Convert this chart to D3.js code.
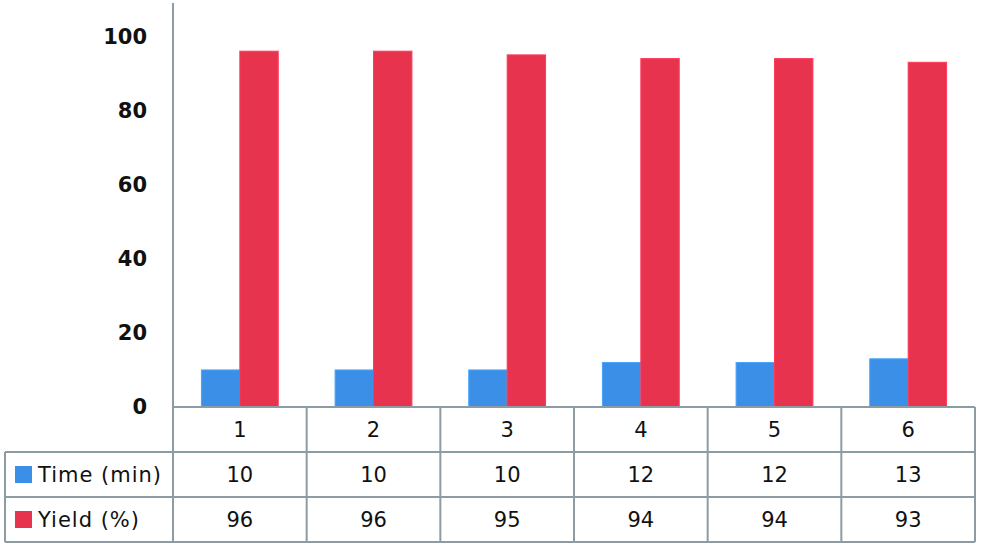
<!DOCTYPE html>
<html>
<head>
<meta charset="utf-8">
<script src="https://cdn.jsdelivr.net/npm/d3@7"></script>
<style>
  body { margin: 0; background: #fff; }
  text { font-family: "DejaVu Sans", Verdana, sans-serif; fill: #111; }
</style>
</head>
<body>
<svg id="chart" width="981" height="549"></svg>
<script>
const categories = ["1", "2", "3", "4", "5", "6"];
const timeValues = [10, 10, 10, 12, 12, 13];
const yieldValues = [96, 96, 95, 94, 94, 93];
const seriesNames = ["Time (min)", "Yield (%)"];
const colors = ["#3c8fe6", "#e8334f"];
const yTicks = [0, 20, 40, 60, 80, 100];

const plotLeft = 173;
const plotRight = 975;
const plotTop = 3;
const plotBottom = 407;
const rowHeight = 45;
const tableLeft = 5;
const gridColor = "#8d9ca2";

const svg = d3.select("#chart");

const x = d3.scaleBand().domain(categories).range([plotLeft, plotRight]);
const xInner = d3
  .scaleBand()
  .domain(seriesNames)
  .range([0, x.bandwidth()])
  .paddingInner(0)
  .paddingOuter(0.74);
const y = d3.scaleLinear().domain([0, 109]).range([plotBottom, plotTop]);

const series = [timeValues, yieldValues];

// bars
series.forEach((values, s) => {
  svg
    .append("g")
    .selectAll("rect")
    .data(values)
    .enter()
    .append("rect")
    .attr("x", (d, i) => x(categories[i]) + xInner(seriesNames[s]))
    .attr("y", (d) => y(d))
    .attr("width", xInner.bandwidth())
    .attr("height", (d) => y(0) - y(d))
    .style("fill", colors[s])
    .style("stroke", d3.color(colors[s]).brighter(0.4))
    .style("stroke-width", 1);
});

// y axis
const yAxis = d3.axisLeft(y).tickValues(yTicks).tickSize(0).tickPadding(26);
const gy = svg
  .append("g")
  .attr("transform", `translate(${plotLeft},0)`)
  .call(yAxis);
gy.select(".domain").remove();
gy.selectAll("text")
  .style("font-size", "21px")
  .style("font-weight", "bold")
  .style("font-family", '"DejaVu Sans", Verdana, sans-serif')
  .style("fill", "#111");

svg
  .append("line")
  .attr("x1", plotLeft)
  .attr("x2", plotLeft)
  .attr("y1", plotTop)
  .attr("y2", plotBottom)
  .style("stroke", gridColor)
  .style("stroke-width", 2);

// data table
const table = svg.append("g");
const tableBottom = plotBottom + rowHeight * 3;

// horizontal lines
table
  .append("line")
  .attr("x1", plotLeft).attr("x2", plotRight)
  .attr("y1", plotBottom).attr("y2", plotBottom);
[1, 2, 3].forEach((r) => {
  table
    .append("line")
    .attr("x1", tableLeft).attr("x2", plotRight)
    .attr("y1", plotBottom + rowHeight * r)
    .attr("y2", plotBottom + rowHeight * r);
});

// vertical lines
table
  .append("line")
  .attr("x1", tableLeft).attr("x2", tableLeft)
  .attr("y1", plotBottom + rowHeight).attr("y2", tableBottom);
table
  .selectAll(".vline")
  .data(categories)
  .enter()
  .append("line")
  .attr("class", "vline")
  .attr("x1", (d) => x(d)).attr("x2", (d) => x(d))
  .attr("y1", plotBottom).attr("y2", tableBottom);
table
  .append("line")
  .attr("x1", plotRight).attr("x2", plotRight)
  .attr("y1", plotBottom).attr("y2", tableBottom);

table.selectAll("line").style("stroke", gridColor).style("stroke-width", 2);

// category header
table
  .selectAll(".cat")
  .data(categories)
  .enter()
  .append("text")
  .attr("x", (d) => x(d) + x.bandwidth() / 2)
  .attr("y", plotBottom + rowHeight / 2)
  .attr("dy", "0.36em")
  .attr("text-anchor", "middle")
  .style("font-size", "21px")
  .text((d) => d);

// series rows
series.forEach((values, s) => {
  const rowMid = plotBottom + rowHeight * (s + 1) + rowHeight / 2;
  table
    .append("rect")
    .attr("x", 15)
    .attr("y", rowMid - 8.5)
    .attr("width", 17)
    .attr("height", 17)
    .style("fill", colors[s]);
  table
    .append("text")
    .attr("x", 38)
    .attr("y", rowMid)
    .attr("dy", "0.36em")
    .style("font-size", "21px")
    .style("letter-spacing", "1px")
    .text(seriesNames[s]);
  table
    .append("g")
    .selectAll("text")
    .data(values)
    .enter()
    .append("text")
    .attr("x", (d, i) => x(categories[i]) + x.bandwidth() / 2)
    .attr("y", rowMid)
    .attr("dy", "0.36em")
    .attr("text-anchor", "middle")
    .style("font-size", "21px")
    .text((d) => d);
});
</script>
</body>
</html>
